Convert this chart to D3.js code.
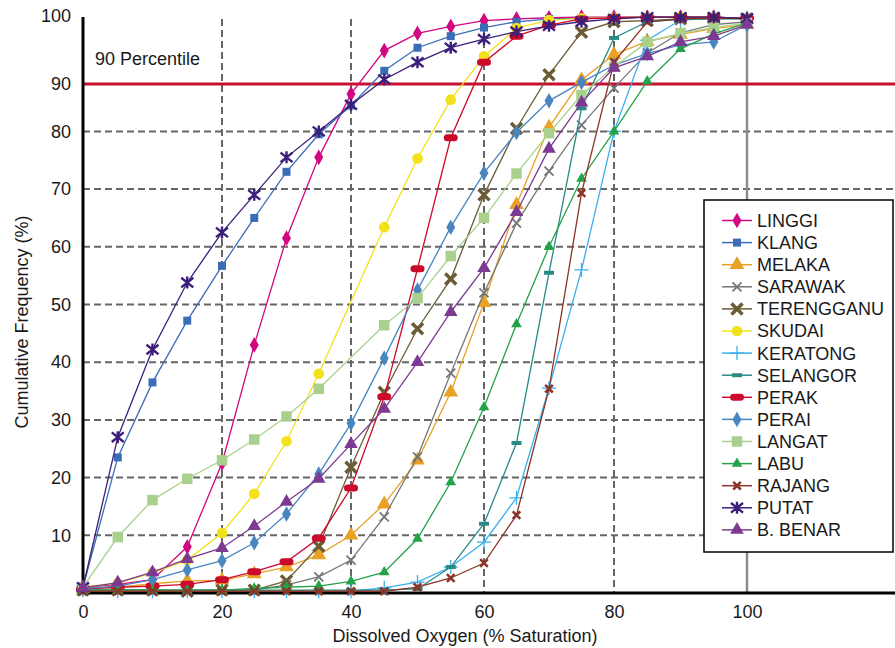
<!DOCTYPE html>
<html>
<head>
<meta charset="utf-8">
<script src="https://cdn.jsdelivr.net/npm/d3@7"></script>
<style>
  body { margin: 0; background: #fff; }
  text { font-family: "Liberation Sans", Arial, sans-serif; fill: #1a1a1a; }
</style>
</head>
<body>
<script>
// Cumulative frequency of dissolved oxygen (% saturation) per river

var xValues = [0, 5, 10, 15, 20, 25, 30, 35, 40, 45, 50, 55, 60, 65, 70, 75, 80, 85, 90, 95, 100];

var linggi    = [1, 1.5, 2.3, 8, 22.5, 43, 61.5, 75.5, 86.5, 94, 97, 98.2, 99.2, 99.5, 99.7, 99.8, 99.8, 99.8, 99.8, 99.8, 99.5];
var klang     = [1, 23.5, 36.5, 47.2, 56.7, 65, 73, 79.5, 84.5, 90.5, 94.5, 96.5, 98, 99, 99.5, 99.6, 99.7, 99.8, 99.8, 99.8, 99.5];
var melaka    = [0.8, 1, 1.6, 2.1, 2.2, 3.3, 4.5, 6.6, 10, 15.4, 23, 34.8, 50.3, 67.3, 80.7, 88.9, 93.3, 95.6, 96.8, 97.8, 98.5];
var sarawak   = [0.5, 0.5, 0.5, 0.5, 0.5, 0.5, 1.4, 2.8, 5.7, 13.2, 23.6, 38.1, 52, 64.1, 73.1, 81.1, 87.5, 93.6, 97.1, 98.5, 99];
var terengganu= [0.5, 0.5, 0.5, 0.3, 0.5, 0.5, 2.1, 8.1, 21.8, 34.8, 45.8, 54.4, 69, 80.5, 89.8, 97.2, 99, 99.2, 99.5, 99.6, 99.5];
var skudai    = [1, 1.7, 3.5, 5.7, 10.4, 17.2, 26.3, 38, null, 63.4, 75.3, 85.5, 93, 97.9, 99.3, 99.6, 99.7, 99.8, 99.8, 99.8, 99.5];
var keratong  = [0.5, 0.3, 0.3, 0.3, 0.3, 0.3, 0.3, 0.3, 0.3, 0.9, 1.9, 4.5, 8.8, 16.5, 35.5, 56, 80, 95.8, 99.3, 99.6, 99.7];
var selangor  = [0.5, 0.5, 0.5, 0.5, 0.5, 0.5, 0.5, 0.5, 0.5, 0.5, 0.7, 4.5, 12, 26, 55.5, 84, 96.2, 99, 99.4, 99.5, 99.5];
var perak     = [0.7, 1, 1.2, 1.5, 2.3, 3.7, 5.4, 9.5, 18.2, 34, 56.2, 78.9, 92, 96.5, 98.4, 99.5, 99.7, 99.8, 99.8, 99.8, 99.6];
var perai     = [0.8, 1.2, 2.3, 4, 5.6, 8.7, 13.7, 20.6, 29.4, 40.7, 52.5, 63.4, 72.8, 79.8, 85.3, 88.5, 91.5, 93.5, 95, 95.5, 98.5];
var langat    = [1, 9.7, 16.1, 19.8, 23, 26.6, 30.6, 35.4, null, 46.4, 51.1, 58.4, 65, 72.7, 79.7, 86.3, 91.2, 95.5, 97, 98, 98.8];
var labu      = [0.5, 0.5, 0.5, 0.5, 0.5, 0.8, 1, 1.2, 2, 3.6, 9.4, 19.2, 32.2, 46.6, 60, 71.8, 80, 88.7, 94.3, 96.9, 98.8];
var rajang    = [0.3, 0.3, 0.3, 0.3, 0.3, 0.3, 0.3, 0.3, 0.3, 0.3, 1, 2.6, 5.2, 13.5, 35.4, 69.3, 92, 99, 99.5, 99.6, 99.6];
var putat     = [1, 27, 42.2, 53.8, 62.5, 69, 75.5, 80, 84.6, 89, 92, 94.5, 96, 97.3, 98.3, 99, 99.5, 99.8, 99.8, 99.8, 99.6];
var bBenar    = [0.9, 1.8, 3.6, 5.9, 7.8, 11.6, 15.8, 19.8, 25.8, 31.9, 40, 48.7, 56.3, 66, 77, 85, 91, 93, 95.5, 96.5, 98.5];

var seriesNames = ['LINGGI', 'KLANG', 'MELAKA', 'SARAWAK', 'TERENGGANU', 'SKUDAI', 'KERATONG',
  'SELANGOR', 'PERAK', 'PERAI', 'LANGAT', 'LABU', 'RAJANG', 'PUTAT', 'B. BENAR'];
var seriesValues = [linggi, klang, melaka, sarawak, terengganu, skudai, keratong,
  selangor, perak, perai, langat, labu, rajang, putat, bBenar];

var xTicks = [0, 20, 40, 60, 80, 100];
var yTicks = [10, 20, 30, 40, 50, 60, 70, 80, 100];
var yGrid = [10, 20, 30, 40, 50, 60, 70, 80];
var percentileLevel = 88.2;   // where the red line sits in the picture
var percentileLabel = '90';

// look of each series (same order as seriesNames)
var seriesColors = ['#d1087f', '#3a6db5', '#e9a126', '#767676', '#6c5c36', '#f3e21b', '#3aaff0',
  '#2a8a86', '#cc0a2c', '#4985c0', '#a9d18d', '#23a24a', '#8a3527', '#3b1f7a', '#7d3a92'];
var seriesMarkers = [
  {shape: 'diamond', size: 70},
  {shape: 'square', size: 64},
  {shape: 'triangle', size: 95},
  {shape: 'x', size: 4.5, sw: 1.8},
  {shape: 'x', size: 5.5, sw: 3.5},
  {shape: 'circle', size: 90},
  {shape: 'plus', size: 7, sw: 1.3},
  {shape: 'dash', size: 5, sw: 4},
  {shape: 'bar', size: 3.5, sw: 7},
  {shape: 'diamond', size: 70},
  {shape: 'square', size: 110},
  {shape: 'triangle', size: 50},
  {shape: 'x', size: 3.8, sw: 2.6},
  {shape: 'star', size: 6, sw: 2.4},
  {shape: 'triangle', size: 80}
];

var margin = {left: 83, top: 16, right: 0, bottom: 55};
var totalWidth = 895, totalHeight = 648;
var graphWidth = totalWidth - margin.left - margin.right;
var graphHeight = 593 - margin.top;

var svg = d3.select('body')
  .append('svg')
  .attr('width', totalWidth)
  .attr('height', totalHeight);

var g = svg.append('g')
  .attr('transform', 'translate(' + margin.left + ',' + margin.top + ')');

// x scale (grid spacing in the picture is slightly uneven)
var xScale = d3.scaleLinear()
  .domain(xTicks)
  .range([0, 139, 268, 401, 531, 664]);

// y scale
var yScale = d3.scaleLinear()
  .domain([0, 100])
  .range([graphHeight, 0]);

// horizontal dashed grid
g.append('g').selectAll('line')
  .data(yGrid)
  .enter()
  .append('line')
  .attr('x1', 0)
  .attr('x2', graphWidth)
  .attr('y1', function(d) { return yScale(d); })
  .attr('y2', function(d) { return yScale(d); })
  .attr('stroke', '#666')
  .attr('stroke-width', 2)
  .attr('stroke-dasharray', '7,4');

// vertical grid: dashed, solid at 100
g.append('g').selectAll('line')
  .data(xTicks.slice(1))
  .enter()
  .append('line')
  .attr('x1', function(d) { return xScale(d); })
  .attr('x2', function(d) { return xScale(d); })
  .attr('y1', 3)
  .attr('y2', graphHeight)
  .attr('stroke', function(d) { return d === 100 ? '#8c8c8c' : '#666'; })
  .attr('stroke-width', function(d) { return d === 100 ? 2.5 : 2; })
  .attr('stroke-dasharray', function(d) { return d === 100 ? null : '7,4'; });

// 90 percentile line
g.append('line')
  .attr('x1', 0)
  .attr('x2', graphWidth + 2)
  .attr('y1', yScale(percentileLevel))
  .attr('y2', yScale(percentileLevel))
  .attr('stroke', '#c8102e')
  .attr('stroke-width', 3);

g.append('text')
  .attr('x', 12)
  .attr('y', yScale(percentileLevel) - 19)
  .attr('font-size', 18)
  .text('90 Percentile');

// axes
var yAxis = d3.axisLeft(yScale)
  .tickValues(yTicks.concat([percentileLevel]))
  .tickFormat(function(d) { return d === percentileLevel ? percentileLabel : d; })
  .tickSize(0)
  .tickPadding(12);
var yAxisNodes = g.append('g').call(yAxis);
styleAxisNodes(yAxisNodes);

var xAxis = d3.axisBottom(xScale)
  .tickValues(xTicks)
  .tickSize(0)
  .tickPadding(12);
var xAxisNodes = g.append('g')
  .attr('transform', 'translate(0,' + graphHeight + ')')
  .call(xAxis);
styleAxisNodes(xAxisNodes);

g.append('line')
  .attr('x1', 0).attr('x2', graphWidth)
  .attr('y1', graphHeight).attr('y2', graphHeight)
  .attr('stroke', '#000').attr('stroke-width', 3);
g.append('line')
  .attr('x1', 0).attr('x2', 0)
  .attr('y1', 1).attr('y2', graphHeight)
  .attr('stroke', '#000').attr('stroke-width', 3);

// axis titles
svg.append('text')
  .attr('x', 465)
  .attr('y', 642)
  .attr('text-anchor', 'middle')
  .attr('font-size', 18)
  .text('Dissolved Oxygen (% Saturation)');

svg.append('text')
  .attr('transform', 'translate(28,322) rotate(-90)')
  .attr('text-anchor', 'middle')
  .attr('font-size', 18)
  .text('Cumulative Frequency (%)');

// series
var line = d3.line()
  .x(function(d) { return xScale(d.x); })
  .y(function(d) { return yScale(d.y); });

var series = seriesNames.map(function(name, i) {
  return {
    name: name,
    color: seriesColors[i],
    marker: seriesMarkers[i],
    points: xValues.map(function(xv, j) { return {x: xv, y: seriesValues[i][j]}; })
      .filter(function(p) { return p.y !== null; })
  };
});

var seriesNodes = g.append('g').selectAll('g')
  .data(series)
  .enter()
  .append('g');

seriesNodes.append('path')
  .attr('d', function(d) { return line(d.points); })
  .attr('fill', 'none')
  .attr('stroke', function(d) { return d.color; })
  .attr('stroke-width', 1.3);

seriesNodes.each(function(s) {
  d3.select(this).selectAll('path.marker')
    .data(s.points)
    .enter()
    .append('path')
    .attr('class', 'marker')
    .attr('transform', function(d) { return 'translate(' + xScale(d.x) + ',' + yScale(d.y) + ')'; })
    .each(function() { drawMarker(d3.select(this), s.marker, s.color); });
});

// legend
var legendX = 704 - margin.left, legendY = 200 - margin.top;
var legend = g.append('g')
  .attr('transform', 'translate(' + legendX + ',' + legendY + ')');

legend.append('rect')
  .attr('width', 189)
  .attr('height', 352)
  .attr('fill', '#fff')
  .attr('stroke', '#000')
  .attr('stroke-width', 1.5);

var legendRows = legend.selectAll('g')
  .data(series)
  .enter()
  .append('g')
  .attr('transform', function(d, i) { return 'translate(0,' + (20.5 + i * 22.1) + ')'; });

legendRows.append('line')
  .attr('x1', 18).attr('x2', 48)
  .attr('stroke', function(d) { return d.color; })
  .attr('stroke-width', 1.5);

legendRows.append('path')
  .attr('transform', 'translate(33,0)')
  .each(function(d) { drawMarker(d3.select(this), d.marker, d.color); });

legendRows.append('text')
  .attr('x', 53)
  .attr('dy', '0.36em')
  .attr('font-size', 18)
  .text(function(d) { return d.name; });

function drawMarker(node, m, color) {
  var r = m.size;
  var symbols = {diamond: d3.symbolDiamond, square: d3.symbolSquare,
    triangle: d3.symbolTriangle, circle: d3.symbolCircle};
  if (symbols[m.shape]) {
    node.attr('d', d3.symbol(symbols[m.shape], m.size)())
      .attr('fill', color);
    return;
  }
  var p;
  if (m.shape === 'x') p = 'M' + (-r) + ',' + (-r) + 'L' + r + ',' + r + 'M' + (-r) + ',' + r + 'L' + r + ',' + (-r);
  if (m.shape === 'plus') p = 'M' + (-r) + ',0L' + r + ',0M0,' + (-r) + 'L0,' + r;
  if (m.shape === 'dash' || m.shape === 'bar') p = 'M' + (-r) + ',0L' + r + ',0';
  if (m.shape === 'star') p = 'M' + (-r) + ',' + (-r * 0.8) + 'L' + r + ',' + (r * 0.8) + 'M' + (-r) + ',' + (r * 0.8) +
    'L' + r + ',' + (-r * 0.8) + 'M0,' + (-r) + 'L0,' + r;
  node.attr('d', p)
    .attr('fill', 'none')
    .attr('stroke', color)
    .attr('stroke-width', m.sw)
    .attr('stroke-linecap', m.shape === 'bar' ? 'round' : 'butt');
}

function styleAxisNodes(axisNodes) {
  axisNodes.select('.domain').remove();
  axisNodes.selectAll('.tick text')
    .attr('font-size', 18)
    .attr('fill', '#1a1a1a')
    .style('font-family', '"Liberation Sans", Arial, sans-serif');
}
</script>
</body>
</html>
